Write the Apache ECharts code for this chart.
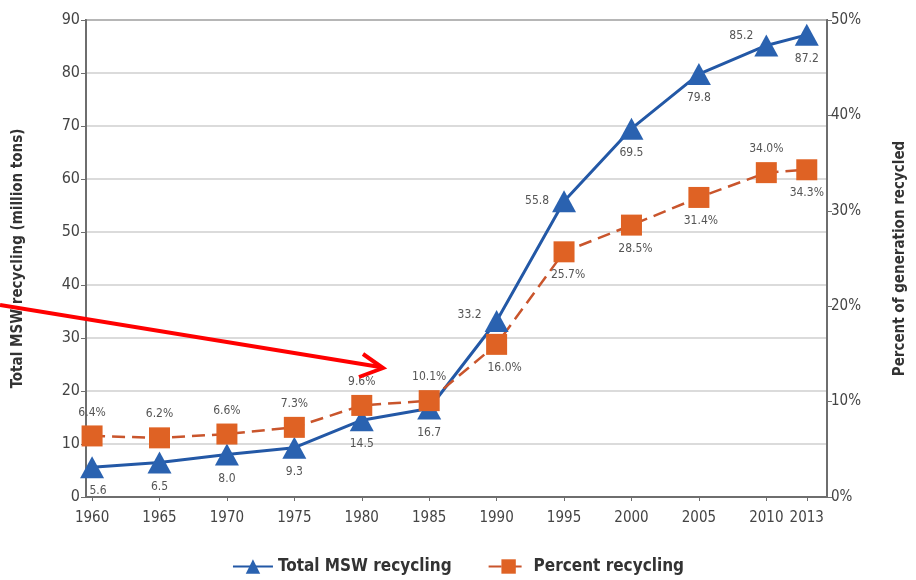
<!DOCTYPE html>
<html><head><meta charset="utf-8">
<script src="https://cdn.jsdelivr.net/npm/echarts@6/dist/echarts.min.js"></script>
<style>html,body{margin:0;padding:0;background:#fff}#c{width:916px;height:580px}</style>
</head><body><div id="c"></div>
<script>
const years = [1960, 1965, 1970, 1975, 1980, 1985, 1990, 1995, 2000, 2005, 2010, 2013];
const totalMSW = [5.6, 6.5, 8.0, 9.3, 14.5, 16.7, 33.2, 55.8, 69.5, 79.8, 85.2, 87.2];
const percentRecycled = [6.4, 6.2, 6.6, 7.3, 9.6, 10.1, 16.0, 25.7, 28.5, 31.4, 34.0, 34.3];
const leftTicks = [0, 10, 20, 30, 40, 50, 60, 70, 80, 90];
const rightTicks = [0, 10, 20, 30, 40, 50];

const FONT = '"DejaVu Sans Condensed", "Open Sans", sans-serif';
const totalLabelPos = {1960: ['bottom', [6, 2]], 1990: ['left', [2, -6]], 1995: ['left', [2, 0]], 2010: ['left', [4, -10]]};
const pctLabelPos = {1990: ['bottom', [8, 2]], 1995: ['bottom', [4, 2]], 2000: ['bottom', [4, 2]], 2005: ['bottom', [2, 2]], 2010: ['top', [0, -2]], 2013: ['bottom', [0, 2]]};

const totalData = years.map((y, i) => {
  const p = totalLabelPos[y] || ['bottom', [0, 2]];
  return {value: [y, totalMSW[i]], label: {position: p[0], offset: p[1]}};
});
const pctData = years.map((y, i) => {
  const p = pctLabelPos[y] || ['top', [0, -2]];
  return {value: [y, percentRecycled[i]], label: {position: p[0], offset: p[1]}};
});

const chart = echarts.init(document.getElementById('c'));
chart.setOption({
  animation: false,
  textStyle: {fontFamily: FONT},
  grid: {left: 86, right: 88, top: 20, bottom: 83, show: true, borderColor: '#6e6e6e', borderWidth: 2, backgroundColor: 'transparent'},
  legend: {
    bottom: 0, left: 'center', itemWidth: 40, itemHeight: 18, itemGap: 36,
    textStyle: {fontFamily: FONT, fontSize: 17, fontWeight: 'bold', color: '#333'},
    data: ['Total MSW recycling', 'Percent recycling']
  },
  xAxis: {
    type: 'value', min: 1959.55, max: 2014.5,
    axisLine: {lineStyle: {color: '#6e6e6e', width: 2}},
    axisTick: {show: true, customValues: years, length: 4, lineStyle: {color: '#6e6e6e'}},
    axisLabel: {customValues: years, color: '#444', fontSize: 15, fontFamily: FONT, margin: 14, formatter: v => String(v)},
    splitLine: {show: false}
  },
  yAxis: [{
    type: 'value', min: 0, max: 90, interval: 10,
    name: 'Total MSW recycling (million tons)', nameLocation: 'middle', nameGap: 60,
    nameTextStyle: {fontFamily: FONT, fontSize: 15, fontWeight: 'bold', color: '#333'},
    axisLine: {show: true, lineStyle: {color: '#6e6e6e', width: 2}},
    axisTick: {show: true, length: 5, lineStyle: {color: '#6e6e6e'}},
    axisLabel: {color: '#444', fontSize: 16, fontFamily: FONT, margin: 6, customValues: leftTicks},
    splitLine: {show: true, lineStyle: {color: '#cfcfcf', width: 1.5}}
  }, {
    type: 'value', min: 0, max: 50, interval: 10, position: 'right',
    name: 'Percent of generation recycled', nameLocation: 'middle', nameGap: 66, nameRotate: 90,
    nameTextStyle: {fontFamily: FONT, fontSize: 15, fontWeight: 'bold', color: '#333'},
    axisLine: {show: true, lineStyle: {color: '#6e6e6e', width: 2}},
    axisTick: {show: true, length: 5, lineStyle: {color: '#6e6e6e'}},
    axisLabel: {color: '#444', fontSize: 15, fontFamily: FONT, margin: 4, formatter: '{value}%', customValues: rightTicks},
    splitLine: {show: false}
  }],
  series: [{
    name: 'Total MSW recycling', type: 'line', yAxisIndex: 0,
    data: totalData,
    symbol: 'triangle', symbolSize: [24, 22],
    itemStyle: {color: '#2a62b0'},
    lineStyle: {color: '#2358a6', width: 3},
    label: {show: true, color: '#555', fontSize: 12, fontFamily: FONT, formatter: p => p.value[1].toFixed(1)}
  }, {
    name: 'Percent recycling', type: 'line', yAxisIndex: 1,
    data: pctData,
    symbol: 'rect', symbolSize: 21,
    itemStyle: {color: '#df6224'},
    lineStyle: {color: '#c9552c', width: 2.5, type: [13, 7]},
    label: {show: true, color: '#555', fontSize: 12, fontFamily: FONT, formatter: p => p.value[1].toFixed(1) + '%'}
  }],
  graphic: [{
    type: 'line', shape: {x1: 0, y1: 305, x2: 380, y2: 367},
    style: {stroke: '#ff0000', lineWidth: 4}, z: 100
  }, {
    type: 'polyline', shape: {points: [[363, 354], [383, 368], [359, 377]]},
    style: {stroke: '#ff0000', lineWidth: 4, fill: null, lineJoin: 'miter'}, z: 100
  }]
});
</script></body></html>
